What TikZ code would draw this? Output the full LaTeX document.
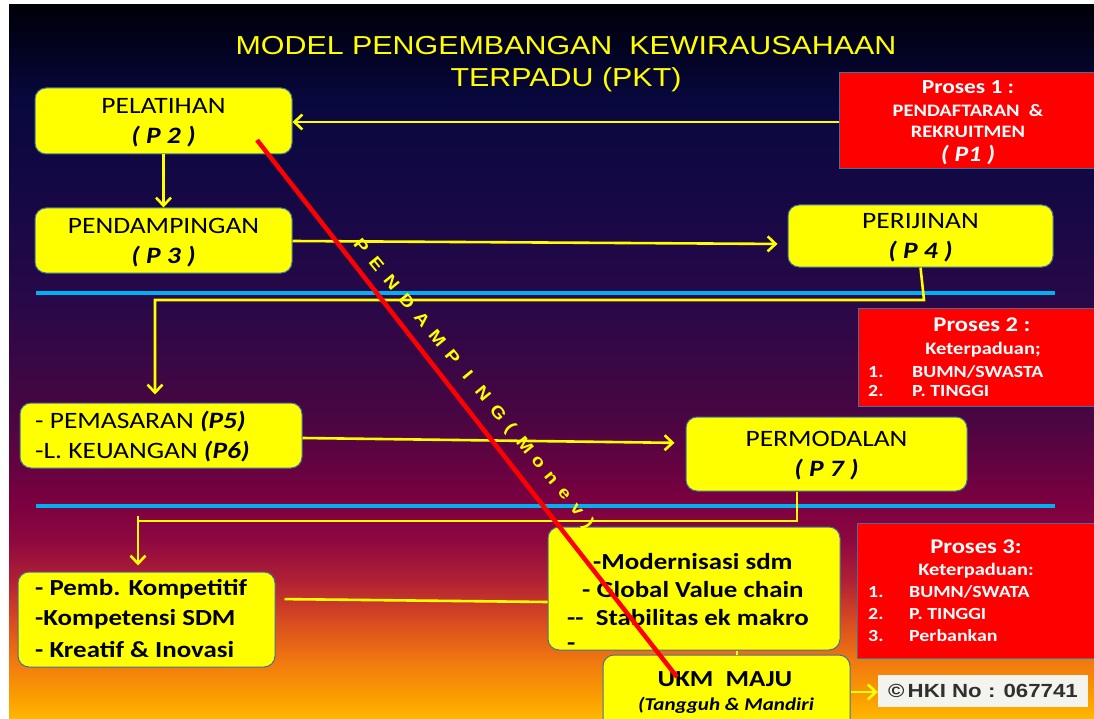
\documentclass[tikz,border=0pt]{standalone}
\usepackage{fontspec}
\setmainfont{Carlito}[FakeStretch=1.17]
\newfontfamily\arialf{Liberation Sans}[FakeStretch=1.17]
\usetikzlibrary{arrows.meta}
\newcommand\dch[1]{\makebox[0pt]{#1}}
\definecolor{yellowc}{HTML}{FFFF00}
\definecolor{bordc}{HTML}{41719C}
\definecolor{redc}{HTML}{FF0000}
\definecolor{cyanc}{HTML}{00B0F0}
\definecolor{hkifill}{HTML}{F4F4EE}
\definecolor{hkitext}{HTML}{303030}
\definecolor{g05}{HTML}{000008}
\definecolor{g40}{HTML}{02021C}
\definecolor{g100}{HTML}{08083E}
\definecolor{g200}{HTML}{160845}
\definecolor{g300}{HTML}{280848}
\definecolor{g420}{HTML}{4A0642}
\definecolor{g500}{HTML}{7A0040}
\definecolor{g540}{HTML}{8E0840}
\definecolor{g580}{HTML}{B02035}
\definecolor{g620}{HTML}{D84A20}
\definecolor{g660}{HTML}{F07810}
\definecolor{g700}{HTML}{FCA000}
\definecolor{g719}{HTML}{FFB800}
\tikzset{
  ybox/.style={draw=bordc, line width=1pt, fill=yellowc, rounded corners=11pt, inner sep=0pt},
  rbox/.style={draw=bordc, line width=1pt, fill=redc, inner sep=0pt},
  conn/.style={draw=yellowc, line width=2.6pt},
  arr/.style={conn, -{Straight Barb[length=8pt,width=15pt]}},
  sepline/.style={draw=cyanc, line width=4pt},
  wt/.style={text=white, inner sep=0pt},
  bt/.style={text=black, inner sep=0pt},
  f23/.style={font=\fontsize{23.5}{30}\selectfont},
  f23b/.style={font=\bfseries\fontsize{23}{30}\selectfont},
  rhead/.style={wt, font=\bfseries\fontsize{21}{21}\selectfont},
  rsub/.style={wt, font=\bfseries\fontsize{17.5}{17.5}\selectfont},
  ritem/.style={wt, anchor=west, font=\bfseries\fontsize{17}{17}\selectfont},
  diag/.style={text=yellowc, inner sep=0pt, rotate=-50.6, font=\arialf\bfseries\fontsize{17}{17}\selectfont},
}
\begin{document}
\begin{tikzpicture}[x=1pt,y=1pt]
\useasboundingbox (0,0) rectangle (1094,-719);
\clip (0,0) rectangle (1094,-719);
\fill[white] (0,0) rectangle (1094,-719);
% background gradient
\shade[top color=g05, bottom color=g40] (9,-5) rectangle (1094,-40.5);
\shade[top color=g40, bottom color=g100] (9,-40) rectangle (1094,-100.5);
\shade[top color=g100, bottom color=g200] (9,-100) rectangle (1094,-200.5);
\shade[top color=g200, bottom color=g300] (9,-200) rectangle (1094,-300.5);
\shade[top color=g300, bottom color=g420] (9,-300) rectangle (1094,-420.5);
\shade[top color=g420, bottom color=g500] (9,-420) rectangle (1094,-500.5);
\shade[top color=g500, bottom color=g540] (9,-500) rectangle (1094,-540.5);
\shade[top color=g540, bottom color=g580] (9,-540) rectangle (1094,-580.5);
\shade[top color=g580, bottom color=g620] (9,-580) rectangle (1094,-620.5);
\shade[top color=g620, bottom color=g660] (9,-620) rectangle (1094,-660.5);
\shade[top color=g660, bottom color=g700] (9,-660) rectangle (1094,-700.5);
\shade[top color=g700, bottom color=g719] (9,-700) rectangle (1094,-719);

% title
\node[text=yellowc, align=center, inner sep=0pt, font=\arialf\fontsize{26}{32}\selectfont] (title) at (566,-64)
  {MODEL PENGEMBANGAN\ \ KEWIRAUSAHAAN\\TERPADU (PKT)};

% separator lines
\draw[sepline] (36,-293) -- (1055,-293);
\draw[sepline] (36,-506) -- (1055,-506);

% yellow boxes
\node[ybox, f23, align=center, text depth=0pt, minimum width=257pt, minimum height=66pt] (p2) at (163.5,-121)
  {PELATIHAN\\\textbf{\textit{( P 2 )}}};
\node[ybox, f23, align=center, text depth=0pt, minimum width=257pt, minimum height=65pt] (p3) at (163.5,-240.5)
  {PENDAMPINGAN\\\textbf{\textit{( P 3 )}}};
\node[ybox, f23, align=center, text depth=0pt, minimum width=265pt, minimum height=62pt] (p4) at (920.5,-236)
  {PERIJINAN\\\textbf{\textit{( P 4 )}}};
\node[ybox, minimum width=282pt, minimum height=65pt] (p5) at (161,-435.5) {};
\node[ybox, f23, align=center, text depth=0pt, minimum width=281pt, minimum height=74pt] (p7) at (826.5,-454)
  {PERMODALAN\\\textbf{\textit{( P 7 )}}};
\node[ybox, minimum width=257pt, minimum height=95pt] (k) at (146.5,-619.5) {};
\node[ybox, minimum width=292pt, minimum height=123pt] (m) at (694,-588.5) {};
\node[ybox, minimum width=247pt, minimum height=75pt] (ukm) at (726.5,-692.5) {};

% red boxes
\node[rbox, minimum width=258pt, minimum height=96pt] (pr1) at (968,-121) {};
\node[rbox, minimum width=240pt, minimum height=98pt] (pr2) at (978,-357) {};
\node[rbox, minimum width=240pt, minimum height=135pt] (pr3) at (977,-590.5) {};
\node[fill=hkifill, inner sep=0pt, minimum width=210pt, minimum height=32pt, text=hkitext,
      font=\arialf\bfseries\fontsize{19}{19}\selectfont] (hki) at (983,-691) {©\,HKI No : 067741};

% texts of left-aligned boxes
\node[bt, f23, anchor=west] (p5a) at (35,-422) {- PEMASARAN \textbf{\textit{(P5)}}};
\node[bt, f23, anchor=west] (p5b) at (35,-452) {-L. KEUANGAN \textbf{\textit{(P6)}}};
\node[bt, f23b, anchor=west] (ka) at (35,-589) {- Pemb. Kompetitif};
\node[bt, f23b, anchor=west] (kb) at (35,-619) {-Kompetensi SDM};
\node[bt, f23b, anchor=west] (kc) at (35,-649) {- Kreatif \& Inovasi};
\node[bt, f23b, anchor=west] (ma) at (593,-562) {-Modernisasi sdm};
\node[bt, f23b, anchor=west] (mb) at (582,-590) {- Global Value chain};
\node[bt, f23b, anchor=west] (mc) at (567,-618) {-{}-\ \ Stabilitas ek makro};
\node[bt, f23b, anchor=west] (md) at (567,-647) {-};
\node[bt, f23b] (ua) at (725,-679) {UKM\ \ MAJU};
\node[bt, font=\bfseries\itshape\fontsize{18}{18}\selectfont] (ub) at (726,-705) {(Tangguh \& Mandiri};

% red box texts
\node[rhead, font=\bfseries\fontsize{20}{20}\selectfont] (pr1a) at (968,-87) {Proses 1 :};
\node[rsub] (pr1b) at (968,-111) {PENDAFTARAN\ \ \&};
\node[rsub] (pr1c) at (968,-132) {REKRUITMEN};
\node[rsub, font=\bfseries\itshape\fontsize{22}{22}\selectfont] (pr1d) at (968,-155) {( P1 )};

\node[rhead] (pr2a) at (982,-325) {Proses 2 :};
\node[rsub] (pr2b) at (983,-350) {Keterpaduan;};
\node[ritem] (pr2n1) at (868,-372) {1.};
\node[ritem] (pr2i1) at (912,-372) {BUMN/SWASTA};
\node[ritem] (pr2n2) at (868,-391) {2.};
\node[ritem] (pr2i2) at (912,-391) {P. TINGGI};

\node[rhead] (pr3a) at (976,-547) {Proses 3:};
\node[rsub] (pr3b) at (976,-571) {Keterpaduan:};
\node[ritem] (pr3n1) at (868,-592) {1.};
\node[ritem] (pr3i1) at (909,-592) {BUMN/SWATA};
\node[ritem] (pr3n2) at (868,-614) {2.};
\node[ritem] (pr3i2) at (909,-614) {P. TINGGI};
\node[ritem] (pr3n3) at (868,-636) {3.};
\node[ritem] (pr3i3) at (909,-636) {Perbankan};

% connectors
\draw[arr] (pr1.west |- 0,-122) -- (p2.east |- 0,-122);
\draw[arr] (p2.south) -- (p3.north);
\draw[arr, shorten >=10pt] (p3.east |- 0,-241) -- (p4.west |- 0,-244);
\draw[arr, shorten >=8pt] (p4.south) -- (924,-300) -- (155,-300) -- (155,-300 |- p5.north);
\draw[arr, shorten >=11pt] (p5.east |- 0,-438) -- (p7.west |- 0,-443);
\draw[conn] (p7.south -| 797,0) -- (797,-521) -- (138,-521);
\draw[arr, shorten >=6pt] (138,-516) -- (138,-516 |- k.north);
\draw[conn, shorten <=9pt] (k.east |- 0,-599) -- (m.west |- 0,-602);
\draw[conn] (m.south -| 737,0) -- (ukm.north -| 737,0);
\draw[arr] (ukm.east |- 0,-692) -- (hki.west |- 0,-692);

% red diagonal (monitoring)
\coordinate (rs) at (257,-140);
\coordinate (re) at (677,-677);
\draw[redc, line width=4.5pt] (rs) -- (re);

% diagonal label, one letter-spaced text
\node[diag] (diaglabel) at (474.1,-385.1)
  {\dch{P}\kern24pt\dch{E}\kern24pt\dch{N}\kern24pt\dch{D}\kern24pt\dch{A}\kern24pt\dch{M}\kern24pt%
   \dch{P}\kern24pt\dch{I}\kern24pt\dch{N}\kern24pt\dch{G}\kern20pt\dch{(}\kern22pt\dch{M}\kern22pt%
   \dch{o}\kern20pt\dch{n}\kern21pt\dch{e}\kern20pt\dch{v}\kern18pt\dch{)}};
\end{tikzpicture}
\end{document}
